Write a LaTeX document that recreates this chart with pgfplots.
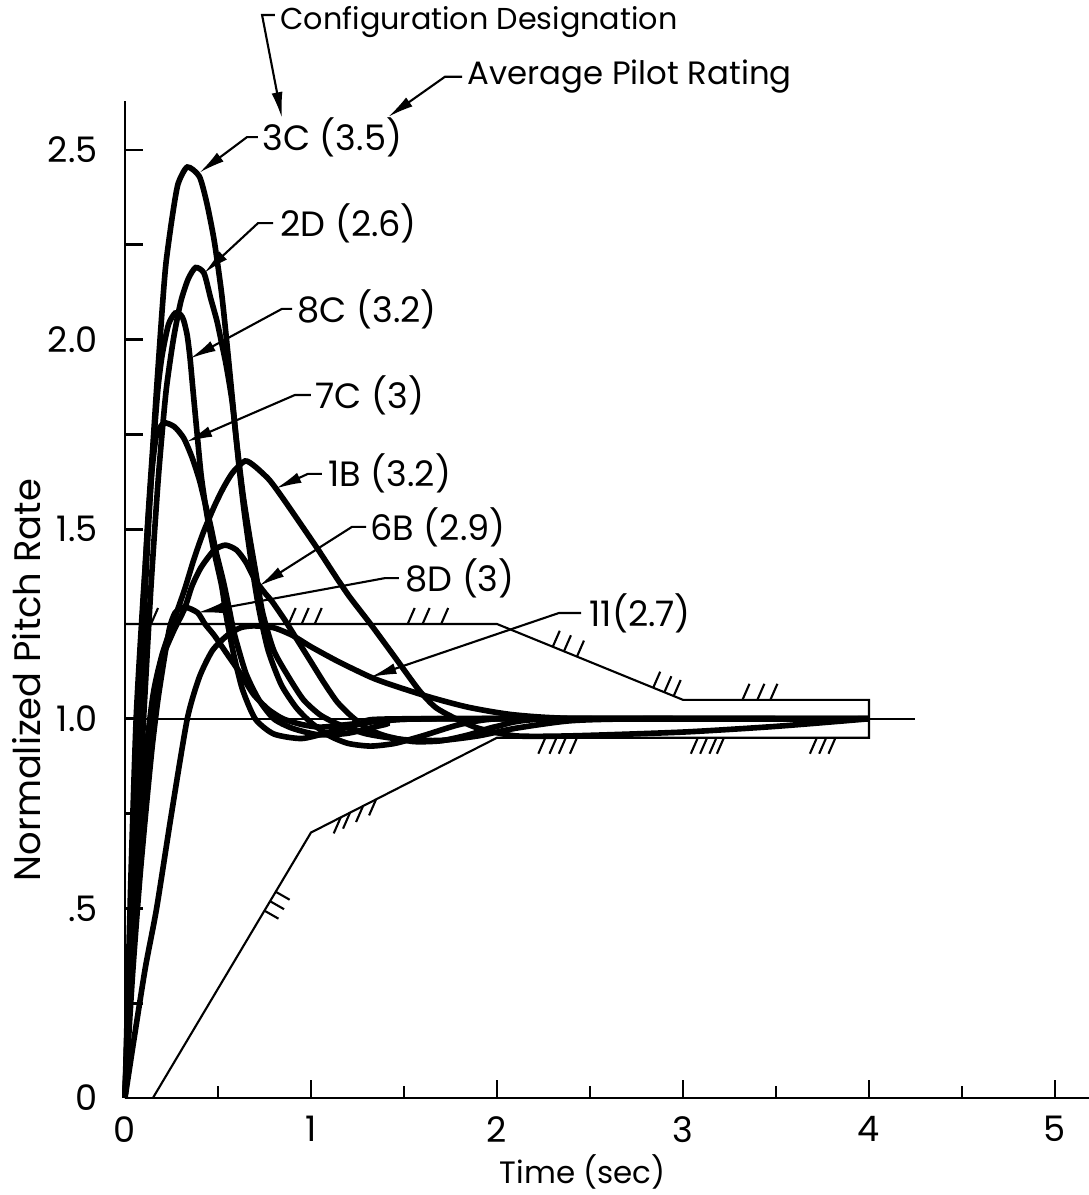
\documentclass[border=0pt]{standalone}
\usepackage{pgfplots}
\pgfplotsset{compat=1.18}
\usepackage{fontspec}
\setmainfont{Poppins}
\usetikzlibrary{arrows.meta}
\newcommand{\hu}[2]{\draw[line width=0.6pt] (axis cs:#1,#2) -- ++(0.7mm,1.6mm);}
\newcommand{\hd}[2]{\draw[line width=0.6pt] (axis cs:#1,#2) -- ++(-0.7mm,-1.6mm);}
\newcommand{\hr}[2]{\draw[line width=0.6pt] (axis cs:#1,#2) -- ++(1.4mm,-0.8mm);}
\begin{document}
\begin{tikzpicture}[font=\fontsize{10}{12}\selectfont]
\begin{axis}[
 scale only axis, width=96.4mm, height=99.73mm,
 xmin=0, xmax=5.183, ymin=0, ymax=2.63,
 axis x line*=bottom, axis y line*=left,
 axis line style={line width=0.8pt},
 clip=false,
 xtick={0,1,2,3,4,5}, minor xtick={0.5,1.5,2.5,3.5,4.5},
 xticklabels={0,1,2,3,4,5},
 ytick={0,0.25,0.5,0.75,1,1.25,1.5,1.75,2,2.25,2.5},
 yticklabels={0,,.5,,1.0,,1.5,,2.0,,2.5},
 tick align=inside,
 major tick length=1.8mm, minor tick length=1.2mm,
 tick style={line width=0.8pt, black},
 /pgf/number format/assume math mode=true,
 ticklabel style={font=\fontsize{10}{12}\selectfont},
 xticklabel style={yshift=-0.6mm},
 yticklabel style={xshift=-1.5mm},
 xlabel={Time (sec)}, ylabel={Normalized Pitch Rate},
 xlabel style={at={(axis description cs:0.475,-0.0742)},anchor=center,font=\fontsize{8.8}{10}\selectfont},
 ylabel style={at={(axis description cs:-0.1017,0.419)},anchor=center,font=\fontsize{10.5}{12}\selectfont},
]
% reference line and boundaries
\addplot[line width=0.6pt] coordinates {(0,1) (4.25,1)};
\addplot[line width=0.6pt] coordinates {(0,1.25) (2,1.25) (3,1.05) (4,1.05) (4,0.95) (2,0.95) (1,0.7) (0.15,0)};

% 3C
\addplot[line width=1.6pt, smooth, tension=0.4] coordinates {
(0,0) (0.04,0.6) (0.08,1.12) (0.12,1.5) (0.15,1.72) (0.17,1.87) (0.2,2.08) (0.22,2.2) (0.253,2.32) (0.285,2.41) (0.335,2.455)
(0.4,2.43) (0.44,2.36) (0.48,2.26) (0.52,2.12) (0.55,1.98) (0.58,1.83) (0.61,1.68) (0.64,1.55) (0.68,1.41) (0.72,1.29)
(0.77,1.18) (0.84,1.09) (0.92,1.03) (1.0,0.99) (1.1,0.955) (1.2,0.935) (1.32,0.928) (1.45,0.935) (1.6,0.955) (1.8,0.985) (2.0,1.0) (2.5,1.0) (4,1)};
% 2D
\addplot[line width=1.6pt, smooth, tension=0.4] coordinates {
(0,0) (0.05,0.55) (0.1,1.0) (0.14,1.35) (0.18,1.64) (0.22,1.86) (0.26,2.0) (0.3,2.1) (0.34,2.16) (0.38,2.19)
(0.425,2.175) (0.46,2.11) (0.494,2.05) (0.52,1.99) (0.545,1.93) (0.575,1.84) (0.6,1.73) (0.635,1.59) (0.67,1.48) (0.705,1.38) (0.74,1.28)
(0.8,1.18) (0.88,1.11) (0.96,1.05) (1.05,1.01) (1.15,0.985) (1.3,0.96) (1.5,0.945) (1.7,0.943) (1.9,0.955) (2.1,0.975) (2.4,0.995) (2.8,1.0) (4,1)};
% 8C
\addplot[line width=1.6pt, smooth, tension=0.4] coordinates {
(0,0) (0.04,0.55) (0.08,1.02) (0.12,1.45) (0.15,1.7) (0.177,1.87) (0.2,1.96) (0.234,2.04) (0.27,2.07) (0.3,2.065) (0.316,2.05)
(0.335,2.01) (0.35,1.95) (0.365,1.87) (0.39,1.74) (0.41,1.64) (0.44,1.54) (0.475,1.45) (0.52,1.35) (0.545,1.27) (0.58,1.18)
(0.63,1.08) (0.7,1.0) (0.8,0.96) (0.95,0.948) (1.1,0.965) (1.3,0.99) (1.5,1.0) (4,1)};
% 7C
\addplot[line width=1.6pt, smooth, tension=0.4] coordinates {
(0,0) (0.03,0.55) (0.06,1.0) (0.095,1.3) (0.11,1.41) (0.127,1.54) (0.146,1.66) (0.17,1.75) (0.21,1.78) (0.266,1.77) (0.316,1.74)
(0.36,1.69) (0.4,1.63) (0.43,1.57) (0.46,1.51) (0.49,1.44) (0.53,1.36) (0.56,1.29) (0.59,1.22) (0.65,1.12) (0.72,1.05)
(0.8,1.0) (0.9,0.975) (1.04,0.958) (1.2,0.962) (1.4,0.985) (1.6,1.0) (4,1)};
% 1B
\addplot[line width=1.6pt, smooth, tension=0.4] coordinates {
(0,0) (0.03,0.3) (0.06,0.56) (0.1,0.85) (0.15,1.06) (0.2,1.17) (0.27,1.27) (0.32,1.34) (0.37,1.42) (0.42,1.49) (0.48,1.56)
(0.53,1.61) (0.58,1.65) (0.646,1.68) (0.70,1.665) (0.776,1.63) (0.844,1.585) (0.93,1.524) (1.04,1.445) (1.14,1.37) (1.21,1.32)
(1.32,1.25) (1.44,1.17) (1.58,1.076) (1.67,1.03) (1.78,1.0) (1.9,0.975) (2.1,0.955) (2.4,0.955) (3.0,0.965) (3.5,0.98) (4,1)};
% 6B
\addplot[line width=1.6pt, smooth, tension=0.4] coordinates {
(0,0) (0.04,0.38) (0.08,0.7) (0.12,0.93) (0.16,1.08) (0.2,1.16) (0.26,1.23) (0.32,1.29) (0.36,1.35) (0.41,1.40) (0.48,1.445)
(0.54,1.458) (0.6,1.445) (0.65,1.413) (0.7,1.366) (0.755,1.33) (0.79,1.31) (0.86,1.26) (0.93,1.205) (1.0,1.15) (1.07,1.095)
(1.14,1.045) (1.21,1.01) (1.3,0.975) (1.4,0.955) (1.55,0.94) (1.7,0.942) (1.85,0.958) (2.0,0.98) (2.3,1.0) (4,1)};
% 8D
\addplot[line width=1.6pt, smooth, tension=0.4] coordinates {
(0,0) (0.04,0.32) (0.08,0.58) (0.115,0.77) (0.146,0.925) (0.177,1.05) (0.21,1.155) (0.24,1.24) (0.27,1.28) (0.32,1.295)
(0.39,1.28) (0.43,1.25) (0.48,1.22) (0.55,1.17) (0.62,1.12) (0.69,1.065) (0.77,1.025) (0.85,1.0) (0.95,0.985) (1.05,0.978)
(1.2,0.985) (1.4,0.995) (1.7,1.0) (4,1)};
% 11
\addplot[line width=1.6pt, smooth, tension=0.4] coordinates {
(0,0) (0.05,0.16) (0.11,0.345) (0.17,0.5) (0.25,0.75) (0.335,1.0) (0.4,1.11) (0.47,1.18) (0.55,1.22) (0.62,1.24) (0.69,1.245)
(0.8,1.24) (0.9,1.22) (1.0,1.19) (1.15,1.15) (1.32,1.11) (1.43,1.09) (1.64,1.057) (1.85,1.03) (2.1,1.01) (2.5,1.0) (4,1)};

% hatch marks
\hu{0.14}{1.25} \hu{0.88}{1.25} \hu{0.95}{1.25} \hu{1.02}{1.25}
\hu{1.52}{1.25} \hu{1.6}{1.25} \hu{1.7}{1.25}
\hu{2.3}{1.19} \hu{2.36}{1.178} \hu{2.43}{1.164}
\hu{2.84}{1.082} \hu{2.9}{1.07} \hu{2.95}{1.06}
\hu{3.32}{1.05} \hu{3.4}{1.05} \hu{3.47}{1.05}
\hd{2.26}{0.95} \hd{2.32}{0.95} \hd{2.37}{0.95} \hd{2.43}{0.95}
\hd{3.08}{0.95} \hd{3.13}{0.95} \hd{3.18}{0.95} \hd{3.22}{0.95}
\hd{3.72}{0.95} \hd{3.77}{0.95} \hd{3.82}{0.95}
\hd{1.16}{0.74} \hd{1.21}{0.7525} \hd{1.28}{0.77} \hd{1.35}{0.7875}
\hr{0.75}{0.494} \hr{0.78}{0.519} \hr{0.81}{0.544}

% annotations
\tikzset{ld/.style={line width=0.6pt, -{Latex[length=2.6mm,width=1.1mm]}}}
\draw[ld] (axis cs:0.715,2.534) -- (axis cs:0.656,2.534) -- (axis cs:0.40,2.44);
\node[anchor=west, inner sep=0] at (axis cs:0.737,2.534) {3C (3.5)};
\draw[ld] (axis cs:0.796,2.307) -- (axis cs:0.715,2.307) -- (axis cs:0.425,2.175);
\node[anchor=west, inner sep=0] at (axis cs:0.833,2.307) {2D (2.6)};
\draw[ld] (axis cs:0.898,2.081) -- (axis cs:0.844,2.081) -- (axis cs:0.35,1.95);
\node[anchor=west, inner sep=0] at (axis cs:0.925,2.081) {8C (3.2)};
\draw[ld] (axis cs:1.0,1.854) -- (axis cs:0.914,1.854) -- (axis cs:0.33,1.73);
\node[anchor=west, inner sep=0] at (axis cs:1.022,1.854) {7C (3)};
\draw[ld] (axis cs:1.059,1.646) -- (axis cs:0.984,1.646) -- (axis cs:0.81,1.607);
\node[anchor=west, inner sep=0] at (axis cs:1.091,1.646) {1B (3.2)};
\draw[ld] (axis cs:1.296,1.506) -- (axis cs:1.22,1.506) -- (axis cs:0.72,1.35);
\node[anchor=west, inner sep=0] at (axis cs:1.317,1.506) {6B (2.9)};
\draw[ld] (axis cs:1.473,1.371) -- (axis cs:1.398,1.371) -- (axis cs:0.39,1.28);
\node[anchor=west, inner sep=0] at (axis cs:1.505,1.371) {8D (3)};
\draw[ld] (axis cs:2.452,1.279) -- (axis cs:2.333,1.279) -- (axis cs:1.32,1.11);
\node[anchor=west, inner sep=0] at (axis cs:2.495,1.279) {11(2.7)};
\draw[ld] (axis cs:0.806,2.856) -- (axis cs:0.737,2.856) -- (axis cs:0.844,2.584);
\node[anchor=west, inner sep=0, font=\fontsize{8.6}{10}\selectfont] at (axis cs:0.833,2.838) {Configuration Designation};
\draw[ld] (axis cs:1.812,2.693) -- (axis cs:1.72,2.693) -- (axis cs:1.414,2.587);
\node[anchor=west, inner sep=0, font=\fontsize{9.2}{11}\selectfont] at (axis cs:1.839,2.693) {Average Pilot Rating};

\coordinate (bbll) at (axis cs:-0.672,-0.2558);
\coordinate (bbur) at (axis cs:5.183,2.8956);
\end{axis}
\pgfresetboundingbox
\path[use as bounding box] (bbll) rectangle (bbur);
\end{tikzpicture}
\end{document}
